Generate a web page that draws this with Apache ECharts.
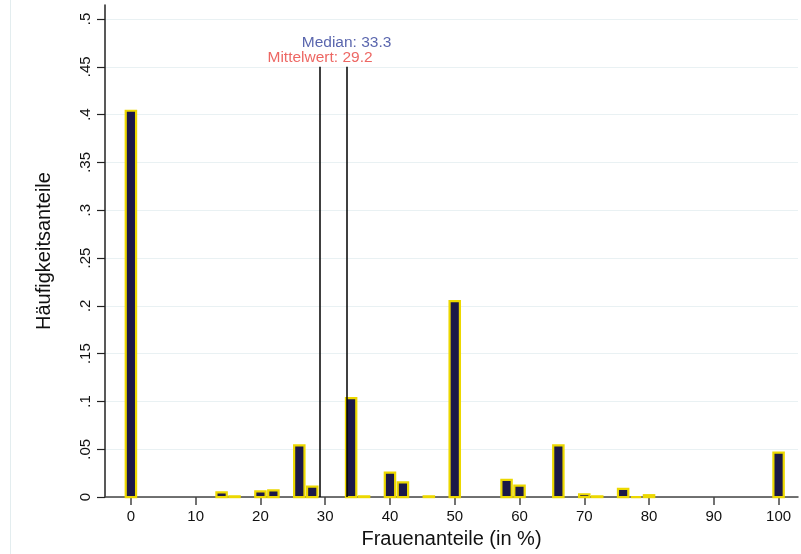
<!DOCTYPE html>
<html><head><meta charset="utf-8">
<script src="https://cdn.jsdelivr.net/npm/echarts@6/dist/echarts.min.js"></script>
<style>html,body{margin:0;padding:0;background:#fff}#c{width:801px;height:554px}</style>
</head><body><div id="c"></div>
<script>
// Histogram bins (centre, in %) and relative frequencies
const binWidth = 2;
const binCenters = [0, 14, 16, 20, 22, 26, 28, 34, 36, 40, 42, 46, 50, 58, 60, 66, 70, 72, 76, 78, 80, 100];
const shares = [0.404, 0.005, 0.0008, 0.006, 0.007, 0.054, 0.011, 0.1035, 0.0008, 0.0255, 0.0153, 0.0008, 0.205, 0.018, 0.012, 0.054, 0.003, 0.0008, 0.0085, 0, 0.002, 0.0465];
const yTicks = [0, 0.05, 0.1, 0.15, 0.2, 0.25, 0.3, 0.35, 0.4, 0.45, 0.5];
const yTickLabels = ['0', '.05', '.1', '.15', '.2', '.25', '.3', '.35', '.4', '.45', '.5'];
const xTicks = [0, 10, 20, 30, 40, 50, 60, 70, 80, 90, 100];
const xTickLabels = ['0', '10', '20', '30', '40', '50', '60', '70', '80', '90', '100'];
const refNames = ['Mittelwert', 'Median'];
const refValues = [29.2, 33.3];
const refLineTop = 0.45;

const FONT = 'Liberation Sans, Arial, Helvetica, sans-serif';
const chart = echarts.init(document.getElementById('c'), null, {renderer: 'canvas'});

const barData = binCenters.map((x, i) => [x, shares[i]]);
const refColors = ['#e8413c', '#2f3e98'];
const refLabelY = [0.4597, 0.475];

chart.setOption({
  animation: false,
  backgroundColor: '#ffffff',
  grid: {left: 105, right: 3, top: 5, bottom: 55.6, containLabel: false},
  graphic: [{
    type: 'line', silent: true,
    shape: {x1: 10.5, y1: 0, x2: 10.5, y2: 554},
    style: {stroke: '#e3edef', lineWidth: 1}
  }],
  xAxis: {
    type: 'value', min: -4, max: 103,
    name: 'Frauenanteile (in %)', nameLocation: 'middle', nameGap: 29,
    nameTextStyle: {fontFamily: FONT, fontSize: 20, color: '#111'},
    axisLine: {show: true, onZero: false, lineStyle: {color: '#444', width: 1.5}},
    axisTick: {show: true, length: 8, customValues: xTicks, lineStyle: {color: '#444', width: 1.5}},
    axisLabel: {customValues: xTicks, margin: 12, fontFamily: FONT, fontSize: 15, color: '#111',
      formatter: v => { const i = xTicks.indexOf(v); return i >= 0 ? xTickLabels[i] : ''; }},
    splitLine: {show: false}
  },
  yAxis: {
    type: 'value', min: 0, max: 0.5146, interval: 0.05,
    name: 'Häufigkeitsanteile', nameLocation: 'middle', nameGap: 51,
    nameTextStyle: {fontFamily: FONT, fontSize: 20, color: '#111'},
    axisLine: {show: true, onZero: false, lineStyle: {color: '#222', width: 1.5}},
    axisTick: {show: true, length: 8, customValues: yTicks, lineStyle: {color: '#222', width: 1.2}},
    axisLabel: {customValues: yTicks, rotate: 90, margin: 12, fontFamily: FONT, fontSize: 15, color: '#111',
      formatter: v => { const i = yTicks.findIndex(t => Math.abs(t - v) < 1e-9); return i >= 0 ? yTickLabels[i] : ''; }},
    splitLine: {show: true, lineStyle: {color: '#e9f1f3', width: 1.2}}
  },
  series: [{
    type: 'custom',
    data: barData,
    encode: {x: 0, y: 1},
    clip: false,
    renderItem: (params, api) => {
      const x = api.value(0), y = api.value(1);
      const top = api.coord([x, y]);
      const base = api.coord([x, 0]);
      const w = api.size([binWidth, 0])[0] - 2.6;
      return {
        type: 'rect',
        shape: {x: top[0] - w / 2, y: top[1], width: w, height: base[1] - top[1]},
        style: {fill: '#1b1848', stroke: '#ecd800', lineWidth: 2.2}
      };
    },
    markLine: {
      silent: true, symbol: 'none',
      label: {show: false},
      lineStyle: {color: '#000', width: 1.5, type: 'solid'},
      data: refValues.map(v => [{coord: [v, 0]}, {coord: [v, refLineTop]}])
    },
    z: 2
  }, {
    type: 'scatter',
    symbolSize: 0,
    silent: true,
    data: refValues.map((v, i) => ({
      value: [v, refLabelY[i]],
      label: {show: true, position: 'inside', color: refColors[i],
        formatter: refNames[i] + ': ' + v.toFixed(1),
        fontFamily: FONT, fontSize: 15.5}
    })),
    z: 5
  }]
});
</script>
</body></html>
